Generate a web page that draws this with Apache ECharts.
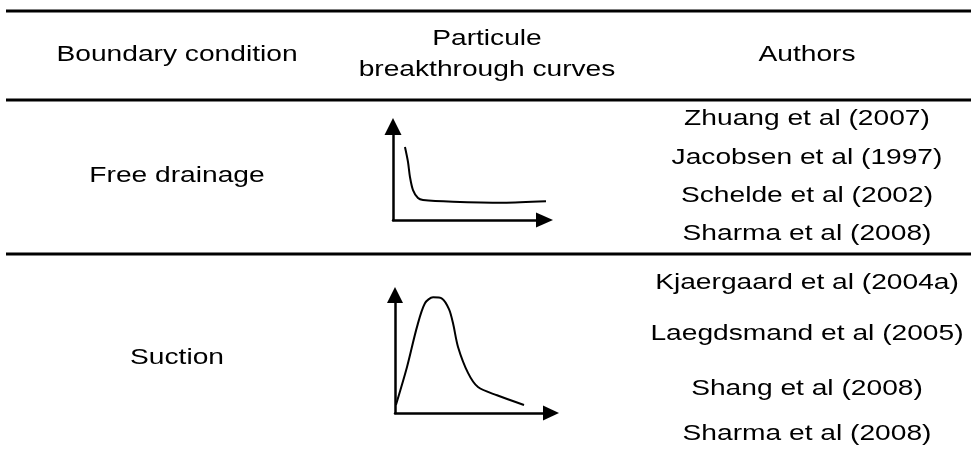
<!DOCTYPE html>
<html>
<head>
<meta charset="utf-8">
<script src="https://cdn.jsdelivr.net/npm/echarts@6/dist/echarts.min.js"></script>
<style>
  html, body { margin: 0; padding: 0; background: #fff; }
  #chart { width: 971px; height: 455px; }
</style>
</head>
<body>
<div id="chart"></div>
<script>
// table text
const headers = ['Boundary condition', 'Particule\nbreakthrough curves', 'Authors']
const conditions = ['Free drainage', 'Suction']
const authorsFree = ['Zhuang et al (2007)', 'Jacobsen et al (1997)', 'Schelde et al (2002)', 'Sharma et al (2008)']
const authorsSuction = ['Kjaergaard et al (2004a)', 'Laegdsmand et al (2005)', 'Shang et al (2008)', 'Sharma et al (2008)']

// sketch curves (time, relative concentration)
const freeTime = [0.79, 0.99, 1.12, 1.32, 1.65, 1.98, 3.96, 7.26, 10.1]
const freeConc = [0.78, 0.62, 0.46, 0.32, 0.235, 0.214, 0.196, 0.185, 0.2]
const suctionTime = [0.06, 0.77, 1.41, 1.92, 2.44, 3.01, 3.46, 3.72, 4.04, 4.68, 5.32, 6.54, 8.27]
const suctionConc = [0.068, 0.39, 0.73, 0.93, 0.98, 0.97, 0.88, 0.76, 0.56, 0.34, 0.22, 0.15, 0.068]

const FONT = "'Liberation Sans', Arial, sans-serif"
const STRETCH = 1.28

const chart = echarts.init(document.getElementById('chart'))

const txt = (text, x, y, extra) => ({
  type: 'text',
  x: x,
  y: y,
  scaleX: STRETCH,
  style: Object.assign({
    text: text,
    fill: '#000',
    font: '22px ' + FONT,
    align: 'center',
    verticalAlign: 'middle'
  }, extra || {})
})

const hline = (y) => ({
  type: 'line',
  shape: { x1: 6, y1: y, x2: 971, y2: y },
  style: { stroke: '#000', lineWidth: 3 }
})

const graphics = [
  hline(11), hline(100), hline(254),
  txt(headers[0], 177, 55),
  txt(headers[1], 487, 54, { lineHeight: 31 }),
  txt(headers[2], 807, 55),
  txt(conditions[0], 177, 176),
  txt(conditions[1], 177, 358)
]
const freeRows = [119, 157.5, 196, 234]
const suctionRows = [282.5, 334, 389, 434]
authorsFree.forEach((a, i) => graphics.push(txt(a, 807, freeRows[i])))
authorsSuction.forEach((a, i) => graphics.push(txt(a, 807, suctionRows[i])))

const axisLine = (size) => ({
  show: true,
  symbol: ['none', 'triangle'],
  symbolSize: size,
  lineStyle: { color: '#000', width: 2.5 }
})

const valueAxis = (gridIndex, max, size) => ({
  type: 'value',
  gridIndex: gridIndex,
  min: 0,
  max: max,
  axisLine: axisLine(size),
  axisTick: { show: false },
  axisLabel: { show: false },
  splitLine: { show: false }
})

const zip = (xs, ys) => xs.map((x, i) => [x, ys[i]])

const option = {
  backgroundColor: '#fff',
  animation: false,
  graphic: graphics,
  grid: [
    { left: 393, top: 126.5, width: 151.5, height: 93.5 },
    { left: 395, top: 295, width: 156, height: 118 }
  ],
  xAxis: [
    valueAxis(0, 10, [15, 17]),
    valueAxis(1, 10, [15, 16])
  ],
  yAxis: [
    valueAxis(0, 1, [17, 17]),
    valueAxis(1, 1, [16, 16])
  ],
  series: [
    {
      type: 'line',
      xAxisIndex: 0,
      yAxisIndex: 0,
      data: zip(freeTime, freeConc),
      smooth: 0.3,
      clip: false,
      showSymbol: false,
      lineStyle: { color: '#000', width: 2 }
    },
    {
      type: 'line',
      xAxisIndex: 1,
      yAxisIndex: 1,
      data: zip(suctionTime, suctionConc),
      smooth: 0.3,
      clip: false,
      showSymbol: false,
      lineStyle: { color: '#000', width: 2 }
    }
  ]
}

chart.setOption(option)
</script>
</body>
</html>
